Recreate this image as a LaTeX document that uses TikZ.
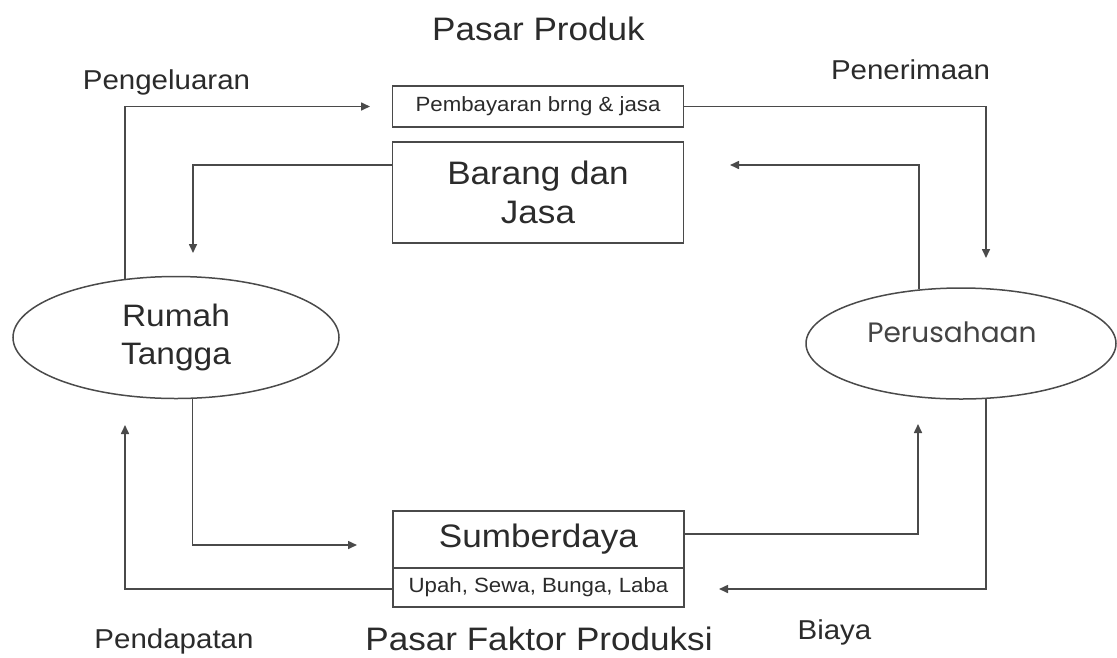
\documentclass[tikz,border=0pt]{standalone}
\usepackage{fontspec}
\setmainfont{Liberation Sans}[FakeStretch=1.08]
\newfontfamily\popfont{Poppins}
\usetikzlibrary{arrows.meta,shapes.geometric}
\definecolor{ln}{HTML}{4A4A4A}
\definecolor{tx}{HTML}{2B2B2B}
\definecolor{tx2}{HTML}{444444}
\tikzset{
  boxn/.style={draw=ln, line width=1.8pt, minimum width=291pt, inner sep=0pt, text=tx, align=center},
  elln/.style={ellipse, draw=ln, line width=1.5pt, inner sep=0pt, text=tx, align=center},
  arr/.style={draw=ln, line width=1.6pt, -{Triangle[length=9pt,width=8pt]}},
  lbl/.style={text=tx, inner sep=0pt, anchor=base},
  bigf/.style={font=\fontsize{32.5}{39}\selectfont},
  medf/.style={font=\fontsize{27.3}{33}\selectfont},
  smallf/.style={font=\fontsize{20.6}{25}\selectfont},
}
\begin{document}
\begin{tikzpicture}[x=1pt,y=-1pt]
\fill[white] (0,0) rectangle (1117,657);
\useasboundingbox (0,0) rectangle (1117,657);

% boxes
\node[boxn, smallf, minimum height=41pt] (ppbox) at (538,106.5) {Pembayaran brng \& jasa};
\node[boxn, bigf, minimum height=101pt] (bjbox) at (538,192.5) {Barang dan\\Jasa};
\node[boxn, bigf, minimum height=57pt] (sdbox) at (538.5,539.5) {Sumberdaya};
\node[boxn, smallf, minimum height=39pt] (ubox) at (538.5,587.5) {Upah, Sewa, Bunga, Laba};

% ellipses
\node[elln, minimum width=326pt, minimum height=122pt, font=\fontsize{31}{38}\selectfont] (rt) at (176,337.5) {Rumah\\Tangga};
\node[elln, minimum width=310pt, minimum height=111pt] (pr) at (961,343.5) {};
\node[text=tx2, inner sep=0pt, font=\popfont\fontsize{28}{34}\selectfont] (prt) at (952,332) {Perusahaan};

% labels
\node[lbl, bigf] (t1) at (538.5,40) {Pasar Produk};
\node[lbl, medf] (t2) at (166.5,89) {Pengeluaran};
\node[lbl, medf] (t3) at (910.5,79) {Penerimaan};
\node[lbl, medf] (t4) at (174,648) {Pendapatan};
\node[lbl, bigf] (t5) at (539,650) {Pasar Faktor Produksi};
\node[lbl, medf] (t6) at (834.5,639) {Biaya};

% arrow ends
\coordinate (e1) at (370,106.5);
\coordinate (e2) at (986,258);
\coordinate (e3) at (730,165);
\coordinate (e4) at (193,253);
\coordinate (e5) at (357,545);
\coordinate (e6) at (918,424);
\coordinate (e7) at (719,589);
\coordinate (e8) at (125,425);

% connectors
\draw[arr] (rt.131.4) |- (e1);
\draw[arr] (ppbox.east) -| (e2);
\draw[arr] (pr.128.2) |- (e3);
\draw[arr] ([yshift=27.5pt]bjbox.west) -| (e4);
\draw[arr] (rt.285.6) |- (e5);
\draw[arr] ([yshift=5.5pt]sdbox.east) -| (e6);
\draw[arr] (pr.294.5) |- (e7);
\draw[arr] ([yshift=-1.5pt]ubox.west) -| (e8);
\end{tikzpicture}
\end{document}
